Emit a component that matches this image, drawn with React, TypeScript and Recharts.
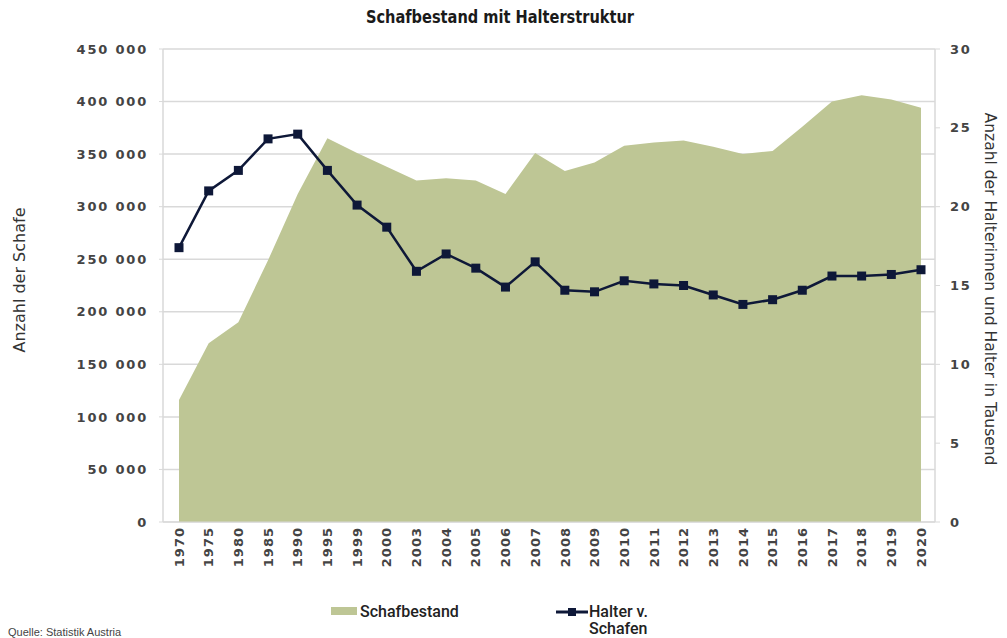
import React from 'react';
import { ComposedChart, Area, Line, XAxis, YAxis, CartesianGrid, Legend } from 'recharts';

const years = ['1970', '1975', '1980', '1985', '1990', '1995', '1999', '2000', '2003', '2004', '2005', '2006', '2007', '2008', '2009', '2010', '2011', '2012', '2013', '2014', '2015', '2016', '2017', '2018', '2019', '2020'];
const sheepCount = [116000, 170000, 190000, 249000, 312000, 365000, 351000, 338000, 325000, 327000, 325000, 312000, 351000, 334000, 342000, 358000, 361000, 363000, 357000, 350000, 353000, 376000, 400000, 406000, 402000, 394000];
const holdersThousand = [17.4, 21.0, 22.3, 24.3, 24.6, 22.3, 20.1, 18.7, 15.9, 17.0, 16.1, 14.9, 16.5, 14.7, 14.6, 15.3, 15.1, 15.0, 14.4, 13.8, 14.1, 14.7, 15.6, 15.6, 15.7, 16.0];
const leftTicks = [0, 50000, 100000, 150000, 200000, 250000, 300000, 350000, 400000, 450000];
const rightTicks = [0, 5, 10, 15, 20, 25, 30];
const seriesNames = ['Schafbestand', 'Halter v. Schafen'];

const data = years.map((y, i) => ({ year: y, sheep: sheepCount[i], holders: holdersThousand[i] }));

const AREA = '#bec695';
const LINE = '#0e1838';
const GRID = '#d9d9d9';
const TICK_FONT = "'DejaVu Sans', Verdana, sans-serif";
const TEXT = '#444444';

const fmt = (v: number) => String(v).replace(/\B(?=(\d{3})+(?!\d))/g, ' ');

const XTick = (props: any) => {
  const { x, y, payload } = props;
  return (
    <text
      x={x}
      y={y}
      transform={`rotate(-90 ${x} ${y})`}
      textAnchor="end"
      dy="0.36em"
      fontFamily={TICK_FONT}
      fontSize={13}
      fontWeight="bold"
      letterSpacing={1}
      fill={TEXT}
    >
      {payload.value}
    </text>
  );
};

const SquareDot = (props: any) => {
  const { cx, cy, index } = props;
  if (cx == null || cy == null) return <g key={`d${index}`} />;
  return <rect key={`d${index}`} x={cx - 4.5} y={cy - 4.5} width={9} height={9} fill={LINE} />;
};

const renderLegend = () => (
  <div
    style={{
      position: 'relative',
      width: 1007,
      height: 40,
      fontFamily: 'Roboto, sans-serif',
      fontWeight: 500,
      fontSize: 16,
      color: '#222',
    }}
  >
    <div style={{ position: 'absolute', left: 331, top: 9, width: 26, height: 8, background: AREA }} />
    <div style={{ position: 'absolute', left: 360, top: 5, lineHeight: '17px', whiteSpace: 'nowrap' }}>{seriesNames[0]}</div>
    <svg style={{ position: 'absolute', left: 556, top: 8 }} width={32} height={12}>
      <line x1={0} y1={6} x2={32} y2={6} stroke={LINE} strokeWidth={3} />
      <rect x={12} y={2} width={8} height={8} fill={LINE} />
    </svg>
    <div style={{ position: 'absolute', left: 589, top: 5, lineHeight: '17px', width: 82 }}>{seriesNames[1]}</div>
  </div>
);

export default function App() {
  return (
    <div style={{ position: 'absolute', left: 0, top: 0, width: 1007, height: 638, background: '#fff', overflow: 'hidden' }}>
      <div
        style={{
          position: 'absolute',
          left: 0,
          top: 6,
          width: 1000,
          textAlign: 'center',
          fontFamily: "'DejaVu Sans Condensed', 'DejaVu Sans', sans-serif",
          fontStretch: 'condensed',
          fontWeight: 'bold',
          fontSize: 18,
          lineHeight: '22px',
          color: '#1a1a1a',
          transform: 'scaleX(0.9)',
        }}
      >
        Schafbestand mit Halterstruktur
      </div>
      <ComposedChart width={1007} height={638} data={data} margin={{ top: 49, right: 0, bottom: 0, left: 0 }}>
        <CartesianGrid yAxisId="left" vertical={false} stroke={GRID} strokeWidth={1.5} />
        <XAxis
          dataKey="year"
          interval={0}
          padding={{ left: 16, right: 14 }}
          height={76}
          tickSize={0}
          tickMargin={5}
          tick={<XTick />}
          axisLine={{ stroke: GRID }}
        />
        <YAxis
          yAxisId="left"
          width={163}
          domain={[0, 450000]}
          ticks={leftTicks}
          tickFormatter={fmt}
          tickSize={4}
          tickMargin={11}
          axisLine={{ stroke: GRID, strokeWidth: 1.5 }}
          tickLine={{ stroke: GRID }}
          tick={{ fontFamily: TICK_FONT, fontSize: 13, fontWeight: 'bold', fill: TEXT, letterSpacing: 1.8 }}
        />
        <YAxis
          yAxisId="right"
          orientation="right"
          width={72}
          domain={[0, 30]}
          ticks={rightTicks}
          tickSize={5}
          tickMargin={10}
          axisLine={{ stroke: GRID, strokeWidth: 1.5 }}
          tickLine={{ stroke: GRID }}
          tick={{ fontFamily: TICK_FONT, fontSize: 13, fontWeight: 'bold', fill: TEXT, letterSpacing: 1.8, textAnchor: 'start' }}
        />
        <Area
          yAxisId="left"
          type="linear"
          dataKey="sheep"
          name={seriesNames[0]}
          fill={AREA}
          fillOpacity={1}
          stroke="none"
          isAnimationActive={false}
        />
        <Line
          yAxisId="right"
          type="linear"
          dataKey="holders"
          name={seriesNames[1]}
          stroke={LINE}
          strokeWidth={2.5}
          dot={<SquareDot />}
          activeDot={false}
          isAnimationActive={false}
        />
        <Legend verticalAlign="bottom" height={40} content={renderLegend} wrapperStyle={{ left: 0, width: 1007, height: 40 }} />
      </ComposedChart>
      <div
        style={{
          position: 'absolute',
          left: 19,
          top: 280,
          transform: 'translate(-50%, -50%) rotate(-90deg)',
          whiteSpace: 'nowrap',
          fontFamily: TICK_FONT,
          fontSize: 16,
          color: '#333',
        }}
      >
        Anzahl der Schafe
      </div>
      <div
        style={{
          position: 'absolute',
          left: 990,
          top: 289,
          transform: 'translate(-50%, -50%) rotate(90deg)',
          whiteSpace: 'nowrap',
          fontFamily: TICK_FONT,
          fontSize: 15.5,
          color: '#333',
        }}
      >
        Anzahl der Halterinnen und Halter in Tausend
      </div>
      <div
        style={{
          position: 'absolute',
          left: 8,
          top: 626,
          whiteSpace: 'nowrap',
          fontFamily: "'Liberation Sans', Arial, sans-serif",
          fontSize: 11,
          color: '#444',
        }}
      >
        Quelle: Statistik Austria
      </div>
    </div>
  );
}
